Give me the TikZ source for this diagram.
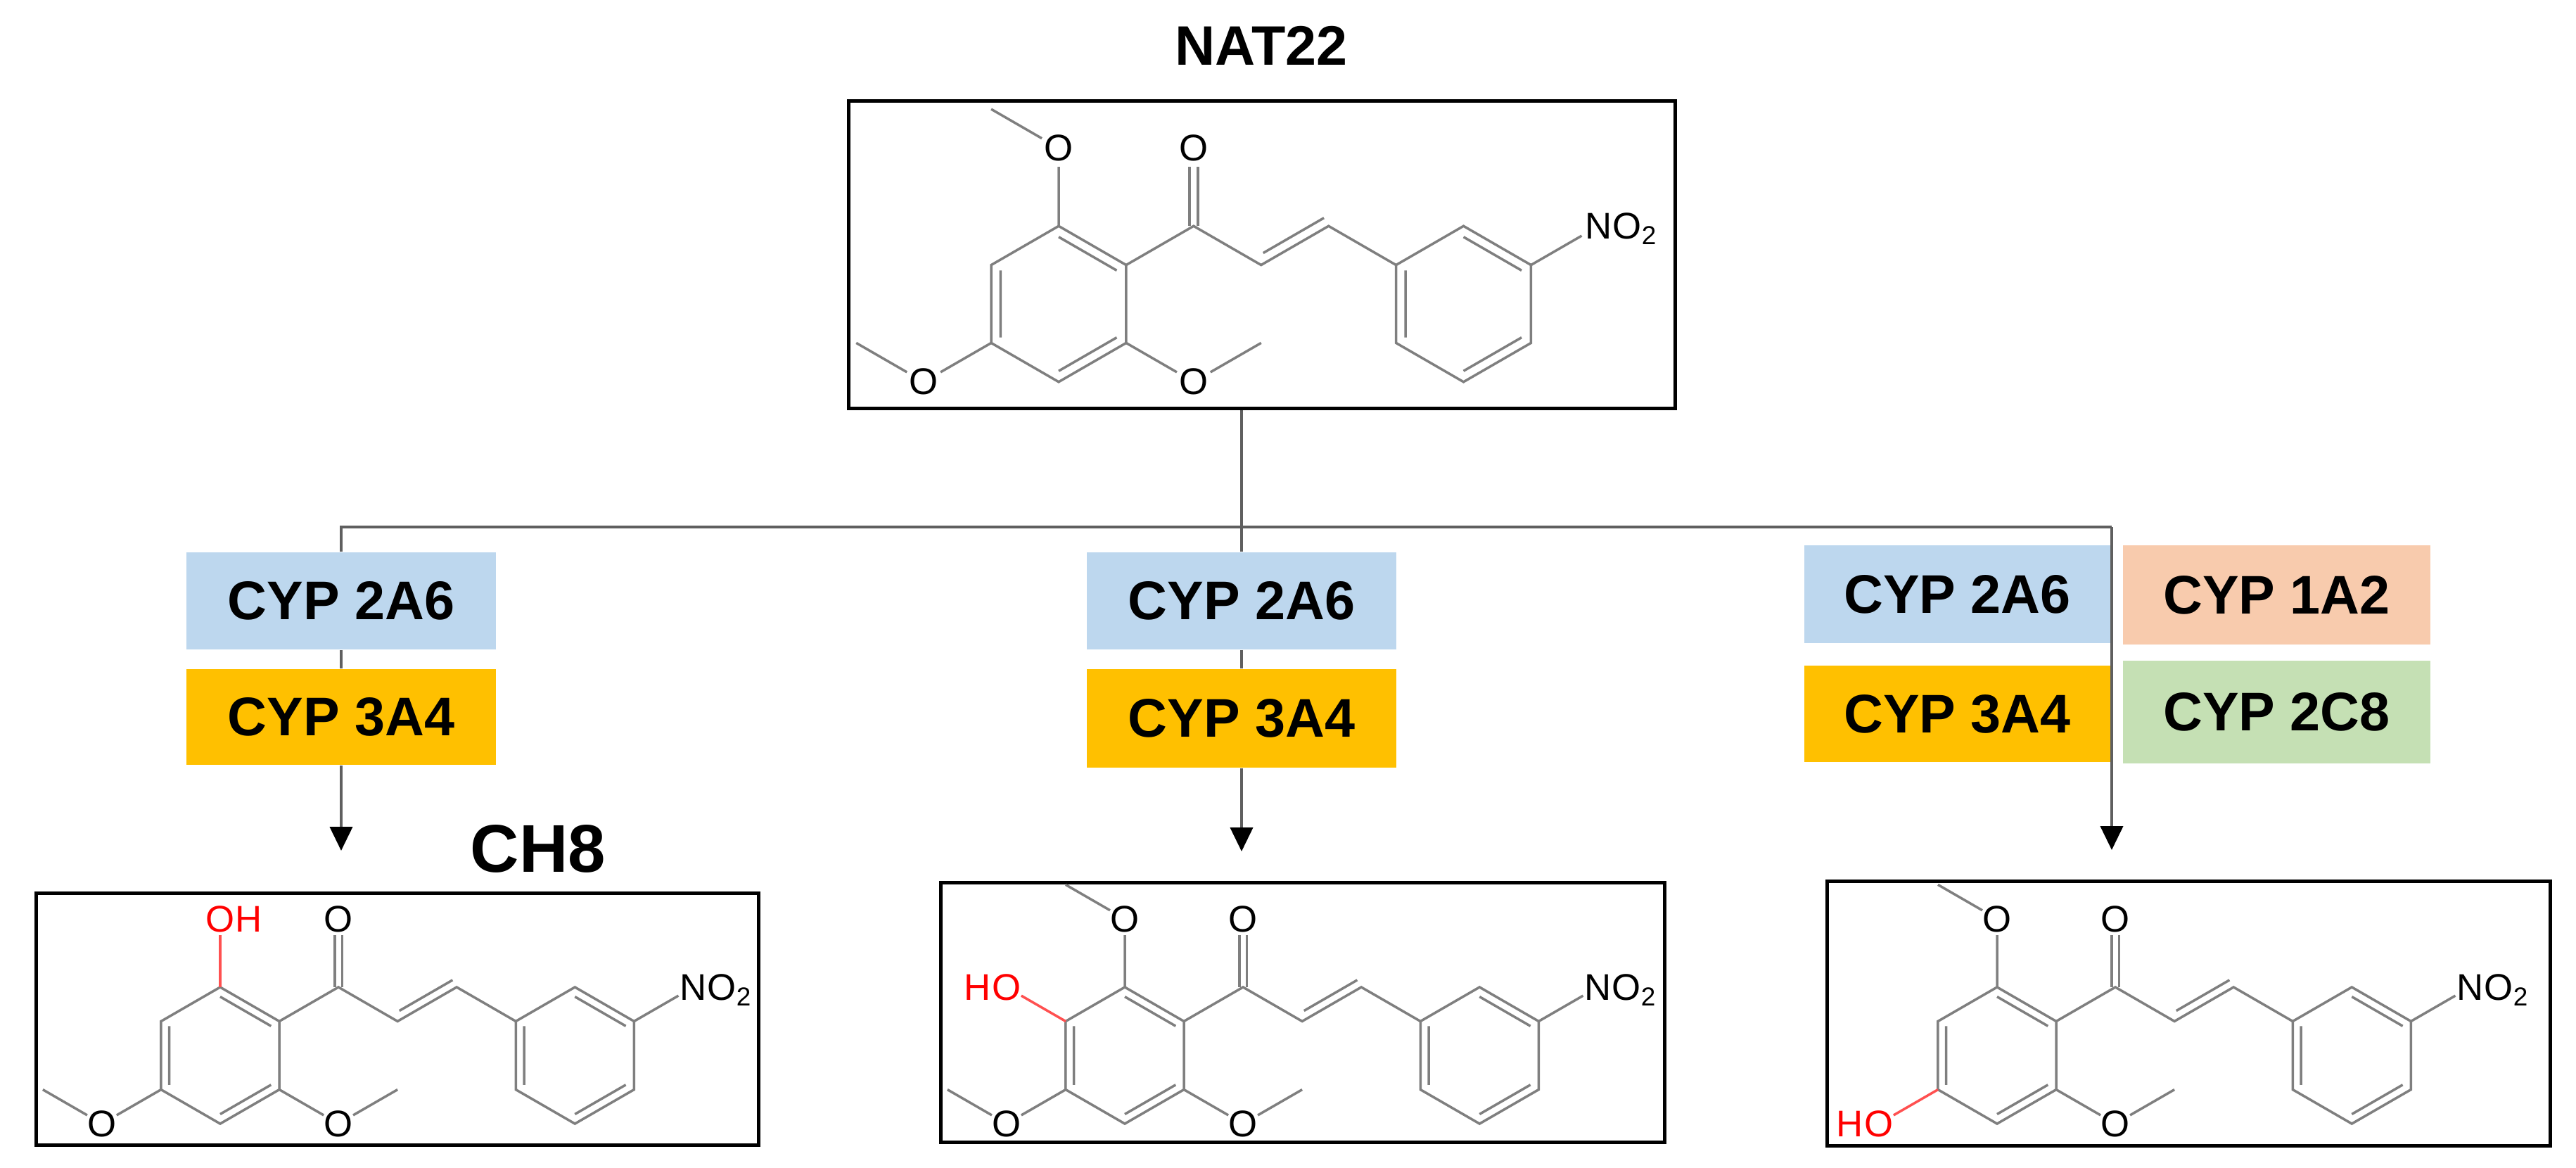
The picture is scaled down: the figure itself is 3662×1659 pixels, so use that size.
\documentclass[tikz,border=0pt]{standalone}
\usepackage{fontspec}
\setmainfont{Liberation Sans}
\usetikzlibrary{arrows.meta,calc}
\definecolor{bondgray}{HTML}{7F7F7F}
\definecolor{conngray}{HTML}{5F5F5F}
\definecolor{ohred}{HTML}{FF0000}
\definecolor{ohbond}{HTML}{FF5050}
\definecolor{cypblue}{HTML}{BDD7EE}
\definecolor{cypgold}{HTML}{FFC000}
\definecolor{cyppeach}{HTML}{F8CBAD}
\definecolor{cypgreen}{HTML}{C5E0B4}
\newcommand\atomfont{\fontsize{15}{15}\selectfont}
\newcommand\cypfont{\fontsize{22}{22}\selectfont\bfseries}
\newcommand\titlefont{\fontsize{22.5}{22.5}\selectfont\bfseries}
\newcommand\bigtitlefont{\fontsize{27.3}{27.3}\selectfont\bfseries}
\tikzset{
  cyp/.style={minimum width=4.4cm, minimum height=1.38cm, inner sep=0pt, font=\cypfont, text=black},
  molbox/.style={draw=black, line width=0.05cm, inner sep=0pt},
  conn/.style={draw=conngray, line width=0.04cm},
  arr/.style={conn, -{Triangle[length=0.34cm,width=0.32cm,color=black]}},
  bond/.style={draw=bondgray, line width=0.035cm},
  redbond/.style={draw=ohbond, line width=0.035cm},
  atom/.style={font=\atomfont, inner sep=0pt, text=black},
  redatom/.style={font=\atomfont, inner sep=0pt, text=ohred},
  titlelabel/.style={font=\titlefont, inner sep=0pt},
  biglabel/.style={font=\bigtitlefont, inner sep=0pt}
}
% chalcone skeleton, ring A centre at local origin, unit = bond length, y downward
\newcommand\chalconecore[1]{%
  \draw[bond] (0,-1) -- (0.866,-0.5) -- (0.866,0.5) -- (0,1) -- (-0.866,0.5) -- (-0.866,-0.5) -- cycle;
  \draw[bond] (0,-0.86) -- (0.745,-0.43) (0.745,0.43) -- (0,0.86) (-0.745,0.43) -- (-0.745,-0.43);
  \draw[bond] (0.866,-0.5) -- (1.732,-1) -- (2.598,-0.5) -- (3.464,-1) -- (4.330,-0.5);
  \draw[bond] (2.625,-0.654) -- (3.404,-1.104);
  \draw[bond] (4.330,-0.5) -- (5.196,-1) -- (6.062,-0.5) -- (6.062,0.5) -- (5.196,1) -- (4.330,0.5) -- cycle;
  \draw[bond] (5.196,-0.86) -- (5.941,-0.43) (5.941,0.43) -- (5.196,0.86) (4.451,0.43) -- (4.451,-0.43);
  \draw[bond] (1.677,-1) -- (1.677,-1.76) (1.787,-1) -- (1.787,-1.76);
  \node[atom] (#1co) at (1.732,-2) {O};
  \draw[bond] (6.062,-0.5) -- (6.712,-0.875);
  \node[atom] (#1n) at (6.928,-1) {N};
  \node[atom, anchor=base west] (#1no) at (#1n.base east) {O\textsubscript{2}};
  \draw[bond] (0.866,0.5) -- (1.516,0.875) (1.948,0.875) -- (2.598,0.5);
  \node[atom] (#1lr) at (1.732,1) {O};
}
\newcommand\subTopOMe[1]{%
  \draw[bond] (0,-1) -- (0,-1.76) (-0.2165,-2.125) -- (-0.866,-2.5);
  \node[atom] (#1to) at (0,-2) {O};}
\newcommand\subTopOH[1]{%
  \draw[redbond] (0,-1) -- (0,-1.76);
  \node[redatom] (#1to) at (0,-2) {O};
  \node[redatom, anchor=base west] (#1th) at (#1to.base east) {H};}
\newcommand\subLLOMe[1]{%
  \draw[bond] (-0.866,0.5) -- (-1.516,0.875) (-1.948,0.875) -- (-2.598,0.5);
  \node[atom] (#1ll) at (-1.732,1) {O};}
\newcommand\subLLHO[1]{%
  \draw[redbond] (-0.866,0.5) -- (-1.516,0.875);
  \node[redatom] (#1ll) at (-1.732,1) {O};
  \node[redatom, anchor=base east] (#1llh) at (#1ll.base west) {H};}
\newcommand\subULHO[1]{%
  \draw[redbond] (-0.866,-0.5) -- (-1.516,-0.875);
  \node[redatom] (#1ul) at (-1.732,-1) {O};
  \node[redatom, anchor=base east] (#1ulh) at (#1ul.base west) {H};}

\begin{document}
\begin{tikzpicture}[x=0.01cm, y=-0.01cm]
\useasboundingbox (0,0) rectangle (3662,1659);

% titles
\node[titlelabel] (natlabel) at (1793,65) {NAT22};
\node[biglabel] (ch8label) at (765,1206) {CH8};

% molecule frames
\node[molbox, minimum width=11.74cm, minimum height=4.36cm] (nat) at (1794,362) {};
\node[molbox, minimum width=10.26cm, minimum height=3.57cm] (ch8) at (565,1448.5) {};
\node[molbox, minimum width=10.28cm, minimum height=3.68cm] (metb) at (1852,1439) {};
\node[molbox, minimum width=10.27cm, minimum height=3.75cm] (metc) at (3111.5,1440.5) {};

% molecules
\begin{scope}[shift={(1505,432)}, x=1.107cm, y=-1.107cm]
  \chalconecore{a}\subTopOMe{a}\subLLOMe{a}
\end{scope}
\begin{scope}[shift={(313,1500)}, x=0.97cm, y=-0.97cm]
  \chalconecore{b}\subTopOH{b}\subLLOMe{b}
\end{scope}
\begin{scope}[shift={(1599,1500)}, x=0.97cm, y=-0.97cm]
  \chalconecore{c}\subTopOMe{c}\subLLOMe{c}\subULHO{c}
\end{scope}
\begin{scope}[shift={(2839,1500)}, x=0.97cm, y=-0.97cm]
  \chalconecore{d}\subTopOMe{d}\subLLHO{d}
\end{scope}

% enzyme boxes
\node[cyp, fill=cypblue] (l2a6) at (485,854) {CYP 2A6};
\node[cyp, fill=cypgold, minimum height=1.36cm] (l3a4) at (485,1019) {CYP 3A4};
\node[cyp, fill=cypblue] (m2a6) at (1765,854) {CYP 2A6};
\node[cyp, fill=cypgold, minimum height=1.40cm] (m3a4) at (1765,1021) {CYP 3A4};
\node[cyp, fill=cypblue, minimum width=4.35cm, minimum height=1.39cm] (r2a6) at (2782.5,844.5) {CYP 2A6};
\node[cyp, fill=cyppeach, minimum width=4.37cm, minimum height=1.41cm] (r1a2) at (3236.5,845.5) {CYP 1A2};
\node[cyp, fill=cypgold, minimum width=4.35cm, minimum height=1.37cm] (r3a4) at (2782.5,1014.5) {CYP 3A4};
\node[cyp, fill=cypgreen, minimum width=4.37cm, minimum height=1.46cm] (r2c8) at (3236.5,1012) {CYP 2C8};

% connectors
\coordinate (split) at (1765,749);
\coordinate (hl) at (485,749);
\coordinate (hr) at (3002,749);
\coordinate (ltip) at (485,1209);
\coordinate (mtip) at (1765,1210);
\coordinate (rtip) at (3002,1208);
\draw[conn] (nat.south -| split) -- (m2a6.north);
\draw[conn] (l2a6.north) -- (hl) -- (hr);
\draw[conn] (l2a6.south) -- (l3a4.north);
\draw[conn] (m2a6.south) -- (m3a4.north);
\draw[arr] (l3a4.south) -- (ltip);
\draw[arr] (m3a4.south) -- (mtip);
\draw[arr] (hr) -- (rtip);
\end{tikzpicture}
\end{document}
